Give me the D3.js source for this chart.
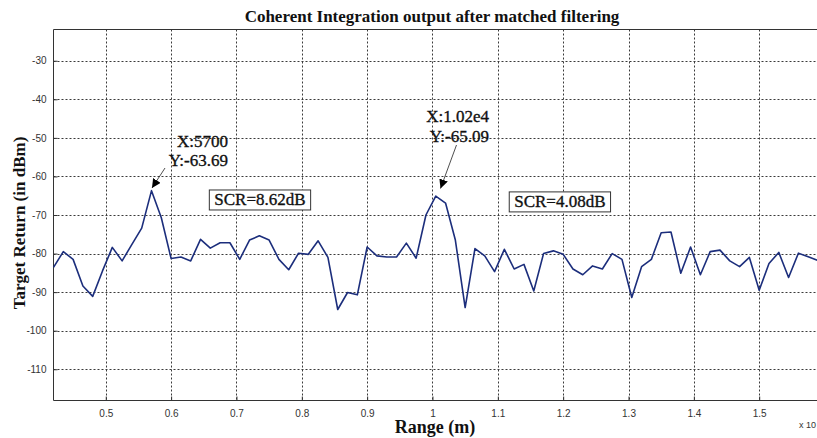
<!DOCTYPE html>
<html>
<head>
<meta charset="utf-8">
<script src="https://cdn.jsdelivr.net/npm/d3@7/dist/d3.min.js"></script>
<style>
  html, body { margin: 0; padding: 0; background: #fff; }
  svg { display: block; }
</style>
</head>
<body>
<svg id="chart" width="817" height="438"></svg>
<script>
// ---- data ----
const rangeM = [4200, 4350, 4500, 4650, 4800, 4950, 5100, 5250, 5400, 5550,
  5700, 5850, 6000, 6150, 6300, 6450, 6600, 6750, 6900, 7050,
  7200, 7350, 7500, 7650, 7800, 7950, 8100, 8250, 8400, 8550,
  8700, 8850, 9000, 9150, 9300, 9450, 9600, 9750, 9900, 10050,
  10200, 10350, 10500, 10650, 10800, 10950, 11100, 11250, 11400, 11550,
  11700, 11850, 12000, 12150, 12300, 12450, 12600, 12750, 12900, 13050,
  13200, 13350, 13500, 13650, 13800, 13950, 14100, 14250, 14400, 14550,
  14700, 14850, 15000, 15150, 15300, 15450, 15600, 15750, 15900];
const returnDBm = [-83.6, -79.5, -81.5, -88.4, -91.1, -84.5, -78.4, -81.9, -77.6, -73.4,
  -63.69, -70.7, -81.3, -80.9, -81.9, -76.3, -78.6, -77.2, -77.2, -81.5,
  -76.5, -75.4, -76.5, -81.5, -84.2, -79.9, -80.2, -76.7, -81.0, -94.5,
  -90.1, -90.7, -78.3, -80.6, -80.9, -80.9, -77.3, -81.2, -70.0, -65.09,
  -66.9, -76.5, -94.0, -78.7, -80.6, -84.7, -78.9, -84.0, -82.8, -89.7,
  -80.0, -79.3, -80.2, -84.0, -85.5, -83.2, -84.0, -80.0, -81.5, -91.4,
  -83.4, -81.5, -74.6, -74.4, -85.1, -78.3, -85.5, -79.5, -79.1, -81.9,
  -83.4, -81.0, -89.5, -82.6, -79.7, -86.2, -79.9, -80.8, -81.8];
const xTicks = [5000, 6000, 7000, 8000, 9000, 10000, 11000, 12000, 13000, 14000, 15000];
const xTickLabels = ["0.5", "0.6", "0.7", "0.8", "0.9", "1", "1.1", "1.2", "1.3", "1.4", "1.5"];
const yTicks = [-30, -40, -50, -60, -70, -80, -90, -100, -110];
const yTickLabels = ["-30", "-40", "-50", "-60", "-70", "-80", "-90", "-100", "-110"];
const titleText = "Coherent Integration output after matched filtering";
const xLabelText = "Range (m)";
const yLabelText = "Target Return (in dBm)";
const exponentText = "x 10";
const dataTips = [
  { x: 5700, y: -63.69, lines: ["X:5700", "Y:-63.69"] },
  { x: 10050, y: -65.09, lines: ["X:1.02e4", "Y:-65.09"] }
];
const scrBoxes = [
  { text: "SCR=8.62dB", x: 7360, y: -67.4 },
  { text: "SCR=4.08dB", x: 11950, y: -67.9 }
];

// ---- layout ----
const W = 817, H = 438;
const plot = { left: 53.5, top: 29.5, right: 818, bottom: 400.5 };
const svg = d3.select("#chart");
svg.append("rect").attr("width", W).attr("height", H).attr("fill", "#fff");

const x = d3.scaleLinear().domain([4200, 15900]).range([plot.left, plot.right]);
const y = d3.scaleLinear().domain([-118.1, -21.9]).range([plot.bottom, plot.top]);

const gridColor = "#3a3a3a";
const g = svg.append("g");

// grid
g.selectAll(".vgrid").data(xTicks).enter().append("line")
  .attr("x1", d => Math.round(x(d)) + 0.5).attr("x2", d => Math.round(x(d)) + 0.5)
  .attr("y1", plot.top).attr("y2", plot.bottom)
  .attr("stroke", gridColor).attr("stroke-width", 1).attr("stroke-dasharray", "2,2");
g.selectAll(".hgrid").data(yTicks).enter().append("line")
  .attr("x1", plot.left).attr("x2", plot.right)
  .attr("y1", d => Math.round(y(d)) + 0.5).attr("y2", d => Math.round(y(d)) + 0.5)
  .attr("stroke", gridColor).attr("stroke-width", 1).attr("stroke-dasharray", "2,2");

// axes via d3 axes (inward ticks)
const xAxis = d3.axisBottom(x).tickValues(xTicks).tickSize(-4)
  .tickFormat((d, i) => xTickLabels[i]).tickPadding(9);
const yAxis = d3.axisLeft(y).tickValues(yTicks).tickSize(-4)
  .tickFormat((d, i) => yTickLabels[i]).tickPadding(7);

const gx = svg.append("g").attr("transform", `translate(0,${plot.bottom})`).call(xAxis);
const gy = svg.append("g").attr("transform", `translate(${plot.left},0)`).call(yAxis);
[gx, gy].forEach(a => {
  a.select(".domain").remove();
  a.selectAll(".tick line").attr("stroke", "#333");
  a.selectAll(".tick text").attr("fill", "#333")
    .style("font-family", "'Liberation Sans', Arial, sans-serif").style("font-size", "10px");
});

// box lines
svg.append("line").attr("x1", plot.left).attr("x2", plot.right).attr("y1", plot.top).attr("y2", plot.top)
  .attr("stroke", "#333").attr("stroke-width", 1);
svg.append("line").attr("x1", plot.left).attr("x2", plot.right).attr("y1", plot.bottom).attr("y2", plot.bottom)
  .attr("stroke", "#333").attr("stroke-width", 1);
svg.append("line").attr("x1", plot.left).attr("x2", plot.left).attr("y1", plot.top).attr("y2", plot.bottom)
  .attr("stroke", "#333").attr("stroke-width", 1);

// data line
const line = d3.line().x((d, i) => x(rangeM[i])).y(d => y(d));
svg.append("path").datum(returnDBm).attr("d", line)
  .attr("fill", "none").attr("stroke", "#1c2e7c").attr("stroke-width", 1.6)
  .attr("stroke-linejoin", "round");

// title and labels
const serif = "'Liberation Serif', 'Times New Roman', serif";
svg.append("text").attr("x", 432).attr("y", 22).attr("text-anchor", "middle")
  .style("font-family", serif).style("font-weight", "bold").style("font-size", "17px")
  .attr("fill", "#111").text(titleText);
svg.append("text").attr("x", 435).attr("y", 433).attr("text-anchor", "middle")
  .style("font-family", serif).style("font-weight", "bold").style("font-size", "18px")
  .attr("fill", "#111").text(xLabelText);
svg.append("text").attr("transform", "translate(25,223) rotate(-90)").attr("text-anchor", "middle")
  .style("font-family", serif).style("font-weight", "bold").style("font-size", "17px")
  .attr("fill", "#111").text(yLabelText);
svg.append("text").attr("x", 799).attr("y", 428)
  .style("font-family", "'Liberation Sans', Arial, sans-serif").style("font-size", "9px")
  .attr("fill", "#333").text(exponentText);

// defs arrowhead
svg.append("defs").append("marker").attr("id", "arrow")
  .attr("viewBox", "0 0 10 10").attr("refX", 10).attr("refY", 5)
  .attr("markerWidth", 9).attr("markerHeight", 9).attr("orient", "auto")
  .attr("markerUnits", "userSpaceOnUse")
  .append("path").attr("d", "M0,0 L10,5 L0,10 z").attr("fill", "#000");

// data tips
const tipLayout = [
  { textX: 228, textY: [147, 166], from: [165, 168], to: [152, 188] },
  { textX: 489, textY: [122, 142], from: [456.5, 145], to: [440.5, 188.5] }
];
dataTips.forEach((t, k) => {
  const L = tipLayout[k];
  t.lines.forEach((s, j) => {
    svg.append("text").attr("x", L.textX).attr("y", L.textY[j]).attr("text-anchor", "end")
      .style("font-family", serif).style("font-size", "17px").attr("fill", "#111")
      .attr("stroke", "#111").attr("stroke-width", 0.35).text(s);
  });
  svg.append("line").attr("x1", L.from[0]).attr("y1", L.from[1])
    .attr("x2", L.to[0]).attr("y2", L.to[1])
    .attr("stroke", "#222").attr("stroke-width", 0.8).attr("marker-end", "url(#arrow)");
});

// SCR boxes
scrBoxes.forEach(b => {
  const t = svg.append("text").attr("x", x(b.x)).attr("y", y(b.y))
    .attr("text-anchor", "middle")
    .style("font-family", serif).style("font-size", "17px").attr("fill", "#111")
    .attr("stroke", "#111").attr("stroke-width", 0.35).text(b.text);
  const bb = t.node().getBBox();
  svg.insert("rect", () => t.node())
    .attr("x", bb.x - 5).attr("y", bb.y).attr("width", bb.width + 10).attr("height", bb.height + 1)
    .attr("fill", "#fff").attr("stroke", "#333").attr("stroke-width", 1);
});
</script>
</body>
</html>
